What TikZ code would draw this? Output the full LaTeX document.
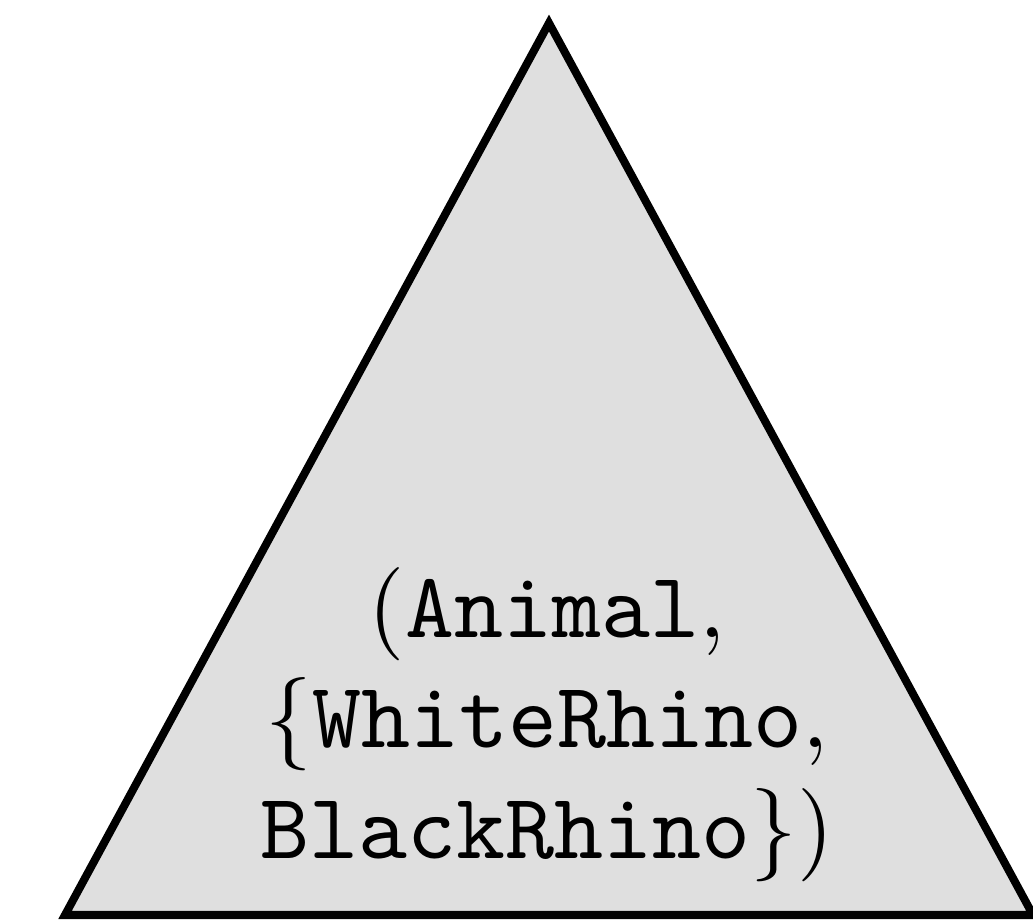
\documentclass[tikz,border=0pt]{standalone}
\begin{document}
\begin{tikzpicture}[x=0.1072pt,y=-0.1072pt,
  tri/.style={draw=black,fill=gray!25,line width=0.86pt,line join=miter},
  lbl/.style={anchor=base,inner sep=0pt,font=\fontsize{10}{12}\selectfont}]
\useasboundingbox (0,0) rectangle (1033,920);
\coordinate (A) at (549,23);
\coordinate (B) at (65,915);
\coordinate (C) at (1033,915);
\draw[tri] (A) -- (B) -- (C) -- cycle;
\node[lbl] (l1) at (547,637) {$(\texttt{Animal},$};
\node[lbl] (l2) at (547,748) {$\{\texttt{WhiteRhino},$};
\node[lbl] (l3) at (547,859) {$\texttt{BlackRhino}\})$};
\end{tikzpicture}
\end{document}
